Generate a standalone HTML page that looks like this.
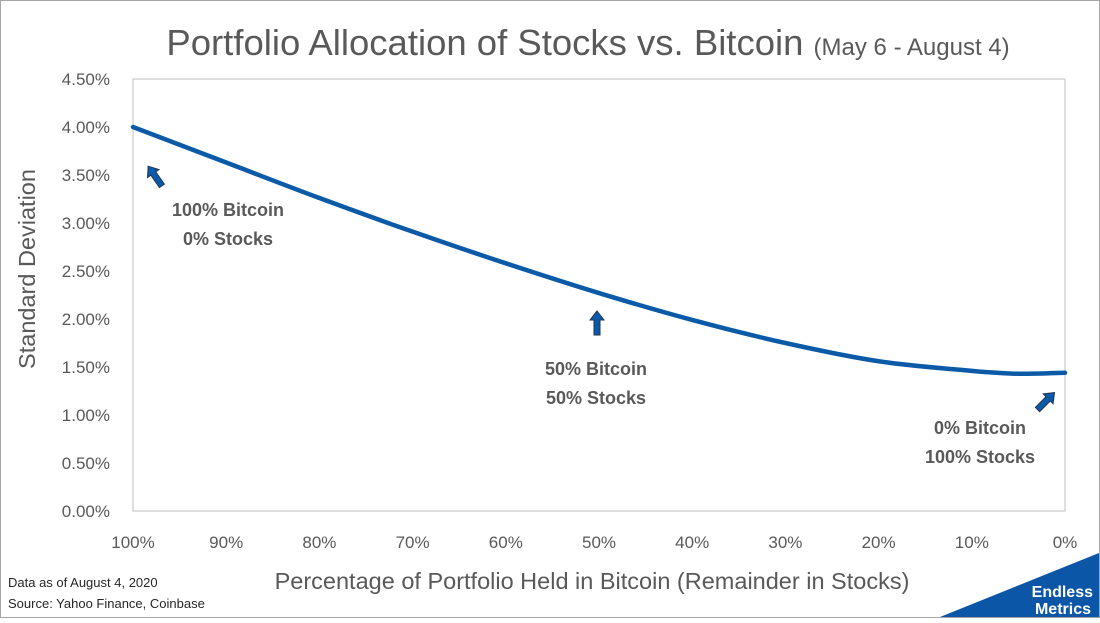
<!DOCTYPE html>
<html><head><meta charset="utf-8"><style>
body{margin:0;background:#fff;}
svg text{font-family:"Liberation Sans",sans-serif;}
</style></head><body>
<svg width="1100" height="618" viewBox="0 0 1100 618">
<rect x="0.5" y="0.5" width="1099" height="617" fill="#fff" stroke="#a6a6a6"/>
<text x="588" y="55" text-anchor="middle" font-size="36.5" fill="#595959">Portfolio Allocation of Stocks vs. Bitcoin <tspan font-size="24">(May 6 - August 4)</tspan></text>
<rect x="133" y="79" width="932" height="432" fill="none" stroke="#bfbfbf"/>
<g id="yticks"></g><g id="xticks"></g>
<text transform="translate(35,269) rotate(-90)" text-anchor="middle" font-size="23.5" fill="#595959">Standard Deviation</text>
<text x="592" y="589" text-anchor="middle" font-size="23.5" fill="#595959">Percentage of Portfolio Held in Bitcoin (Remainder in Stocks)</text>
<path id="line" fill="none" stroke="#0b5aa8" stroke-width="4.5" stroke-linecap="round"/>
<g font-size="18" font-weight="bold" fill="#595959" text-anchor="middle">
<text x="228" y="216">100% Bitcoin</text>
<text x="228" y="245">0% Stocks</text>
<text x="596" y="375">50% Bitcoin</text>
<text x="596" y="404">50% Stocks</text>
<text x="980" y="434">0% Bitcoin</text>
<text x="980" y="463">100% Stocks</text>
</g>
<g fill="#0b5aa8" stroke="#1f3552" stroke-width="1">
<polygon transform="translate(155,176) rotate(-35)" points="0,-12 7,-3 3,-3 3,12 -3,12 -3,-3 -7,-3"/>
<polygon transform="translate(597,323)" points="0,-12 7,-3 3,-3 3,12 -3,12 -3,-3 -7,-3"/>
<polygon transform="translate(1046,401) rotate(45)" points="0,-12 7,-3 3,-3 3,12 -3,12 -3,-3 -7,-3"/>
</g>
<text x="8" y="587" font-size="13" fill="#262626">Data as of August 4, 2020</text>
<text x="8" y="608" font-size="13" fill="#262626">Source: Yahoo Finance, Coinbase</text>
<polygon points="940,617 1099,553 1099,617" fill="#0b56a6"/>
<text x="1093" y="597" text-anchor="end" font-size="16" font-weight="bold" fill="#fff">Endless</text>
<text x="1091" y="614" text-anchor="end" font-size="16" font-weight="bold" fill="#fff">Metrics</text>
</svg>
<script>
const categories=[100,90,80,70,60,50,40,30,20,10,5,0];
const stdDev=[4.00,3.63,3.26,2.91,2.58,2.27,1.99,1.75,1.56,1.46,1.43,1.44];
const xTickLabels=[100,90,80,70,60,50,40,30,20,10,0];
const yTicks=[0,0.5,1,1.5,2,2.5,3,3.5,4,4.5];
const NS="http://www.w3.org/2000/svg";
const x=v=>133+(100-v)/100*932;
const y=v=>511-v/4.5*432;
const yg=document.getElementById('yticks');
yTicks.forEach(t=>{const e=document.createElementNS(NS,'text');
e.setAttribute('x',110);e.setAttribute('y',y(t)+6);e.setAttribute('text-anchor','end');e.setAttribute('font-size','17');e.setAttribute('fill','#595959');


e.textContent=t.toFixed(2)+'%';yg.appendChild(e);});
const xg=document.getElementById('xticks');
xTickLabels.forEach(c=>{const e=document.createElementNS(NS,'text');
e.setAttribute('x',x(c));e.setAttribute('y',548);e.setAttribute('text-anchor','middle');e.setAttribute('font-size','17');e.setAttribute('fill','#595959');


e.textContent=c+'%';xg.appendChild(e);});
const P=categories.map((c,i)=>[x(c),y(stdDev[i])]);
let d='M'+P[0][0]+','+P[0][1];
for(let i=0;i<P.length-1;i++){const p0=P[i-1]||P[i],p1=P[i],p2=P[i+1],p3=P[i+2]||P[i+1];
d+=' C'+(p1[0]+(p2[0]-p0[0])/6)+','+(p1[1]+(p2[1]-p0[1])/6)+' '+(p2[0]-(p3[0]-p1[0])/6)+','+(p2[1]-(p3[1]-p1[1])/6)+' '+p2[0]+','+p2[1];}
document.getElementById('line').setAttribute('d',d);
</script>
</body></html>
